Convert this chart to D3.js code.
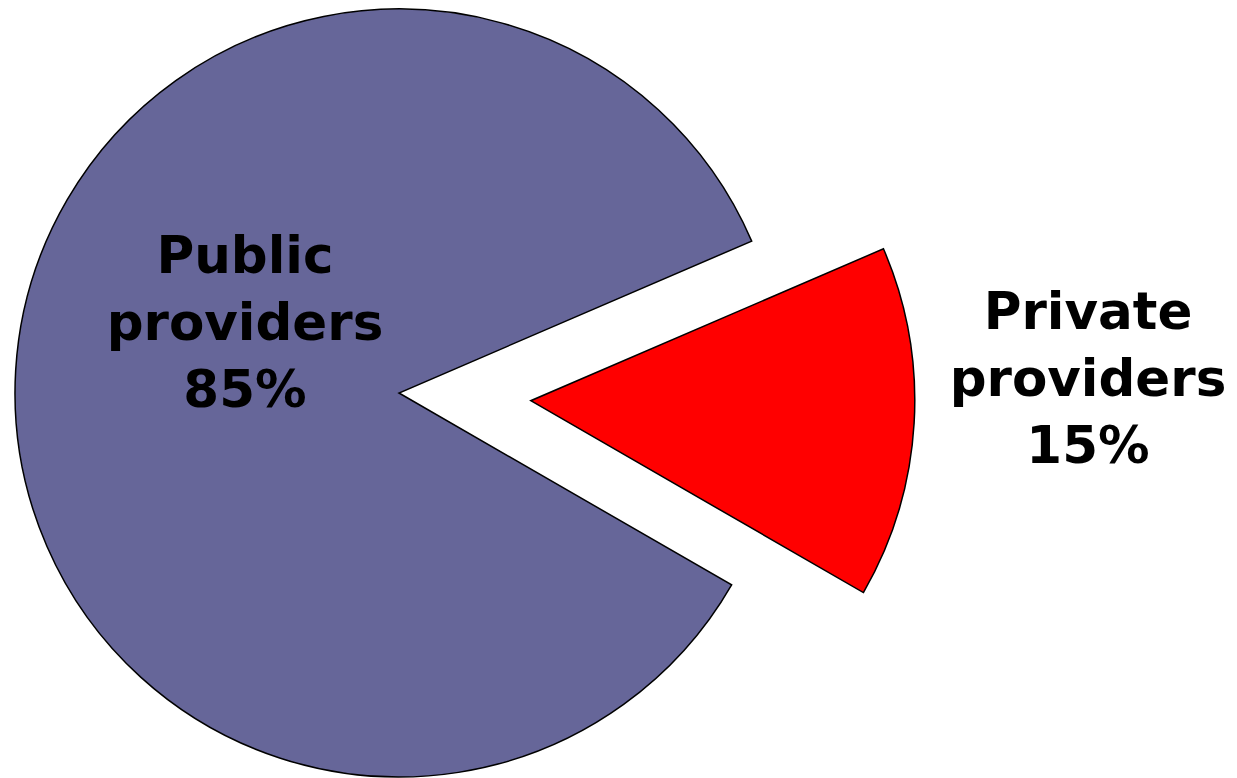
<!DOCTYPE html>
<html lang="en">
<head>
    <meta charset="UTF-8">
    <title>Providers</title>
    <script src="https://d3js.org/d3.v7.min.js"></script>
    <style>
        body {margin: 0; background: #fff;}
        text {
            font-family: "DejaVu Sans", Verdana, sans-serif;
            font-weight: bold;
        }
    </style>
</head>
<body>
<script>
    const width = 1237;
    const height = 778;

    // data (labels are rounded, slice values)
    const categories = ["Private providers", "Public providers"];
    const shares = [14.8, 85.2];
    const labelLines = [["Private", "providers", "15%"], ["Public", "providers", "85%"]];
    const colors = ["#ff0000", "#666699"];

    const cx = 399, cy = 393;
    const radius = 384;
    const explode = [132, 0];
    const startDeg = 66.7;

    const svg = d3.select("body").append("svg")
            .attr("width", width).attr("height", height);

    const pie = d3.pie()
            .sort(null)
            .value(d => d)
            .startAngle(startDeg * Math.PI / 180)
            .endAngle(startDeg * Math.PI / 180 + 2 * Math.PI);

    const arc = d3.arc().innerRadius(0).outerRadius(radius);

    const arcs = pie(shares);

    const slices = svg.selectAll("g.slice")
            .data(arcs)
            .enter()
            .append("g")
            .attr("class", "slice")
            .attr("transform", (d, i) => {
                const mid = (d.startAngle + d.endAngle) / 2;
                const dx = Math.sin(mid) * explode[i];
                const dy = -Math.cos(mid) * explode[i];
                return `translate(${cx + dx},${cy + dy})`;
            });

    slices.append("path")
            .attr("d", arc)
            .style("fill", (d, i) => colors[i])
            .style("stroke", "black")
            .style("stroke-width", 1.5)
            .style("stroke-linejoin", "miter");

    // labels (positions picked to match the original layout)
    const labelPos = [[1088, 329], [245, 273]];
    const lineGap = 67;

    svg.selectAll("text.label")
            .data(labelLines)
            .enter()
            .append("text")
            .attr("class", "label")
            .attr("text-anchor", "middle")
            .style("font-size", "51.5px")
            .attr("x", (d, i) => labelPos[i][0])
            .attr("y", (d, i) => labelPos[i][1])
            .selectAll("tspan")
            .data((d, i) => d.map(t => ({t: t, i: i})))
            .enter()
            .append("tspan")
            .attr("x", d => labelPos[d.i][0])
            .attr("dy", (d, j) => j === 0 ? 0 : lineGap)
            .text(d => d.t);
</script>
</body>
</html>
